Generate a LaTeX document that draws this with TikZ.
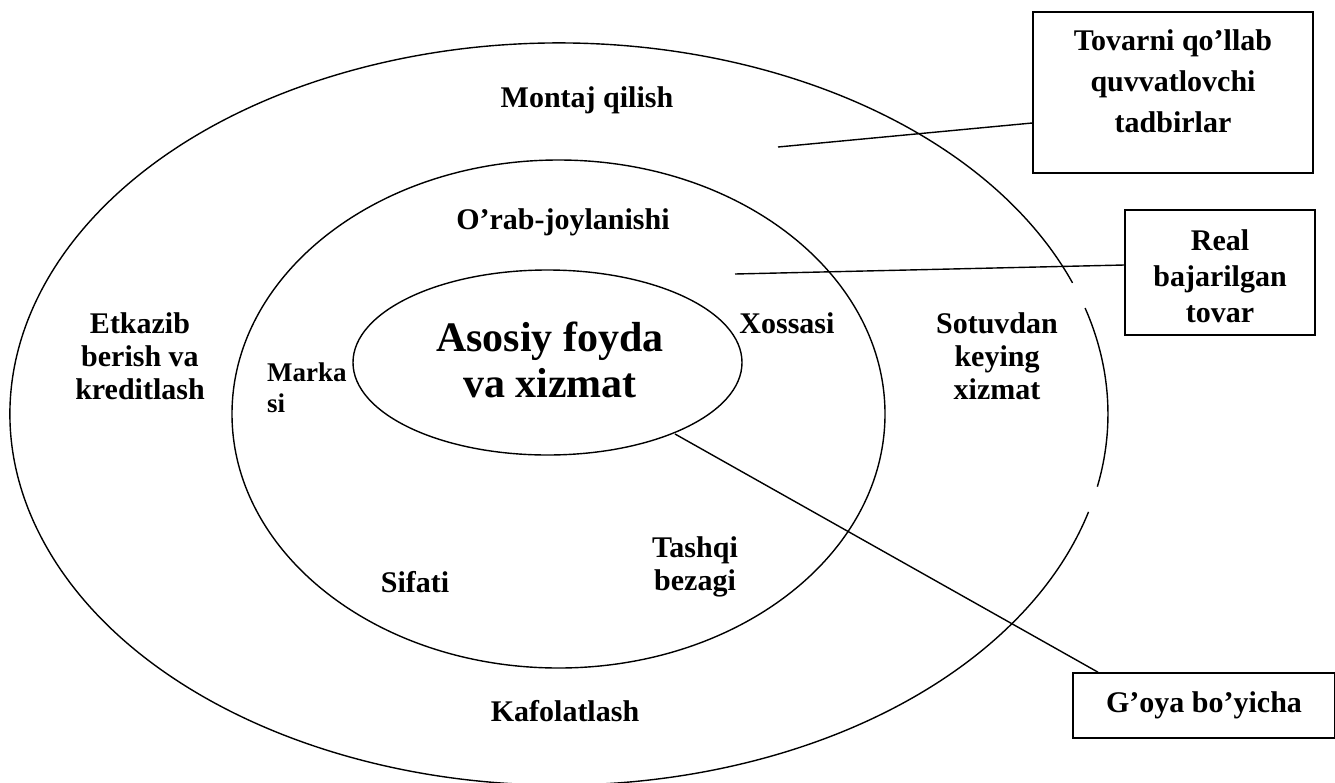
\documentclass[tikz,border=0pt]{standalone}
\usepackage{fontspec}
\setmainfont{Liberation Serif}
\usetikzlibrary{shapes.geometric}
\begin{document}
\begin{tikzpicture}[x=1pt,y=-1pt,
  ring/.style={draw,line width=1.4pt,ellipse,inner sep=0pt},
  box/.style={draw,line width=1.6pt,rectangle,inner sep=0pt},
  lbl/.style={font=\bfseries\fontsize{30}{33}\selectfont,align=center,inner sep=0pt},
  conn/.style={line width=1.4pt}]
\useasboundingbox (0,0) rectangle (1335,782);
\fill[white] (0,0) rectangle (1335,782);
% outer ring with two small gaps on the right
\draw[line width=1.4pt] (559,414) ++(20.7:549 and -371) arc[start angle=20.7,end angle=344.7,x radius=549,y radius=-371];
\draw[line width=1.4pt] (559,414) ++(-11.3:549 and -371) arc[start angle=-11.3,end angle=16.6,x radius=549,y radius=-371];
% middle and inner rings
\node[ring,minimum width=653,minimum height=508] (mid) at (558.5,414) {};
\node[ring,minimum width=389,minimum height=185] (core) at (547.5,362.5) {};
% boxes
\node[box,minimum width=280,minimum height=161] (b1) at (1173,92.5) {};
\node[box,minimum width=190,minimum height=125] (b2) at (1220,272.5) {};
\node[box,minimum width=262,minimum height=65] (b3) at (1204,705.5) {};
% box labels
\node[lbl,font=\bfseries\fontsize{30}{41}\selectfont] (t1) at (1173,81) {Tovarni qo’llab\\quvvatlovchi\\tadbirlar};
\node[lbl,font=\bfseries\fontsize{30}{36}\selectfont] (t2) at (1220,276) {Real\\bajarilgan\\tovar};
\node[lbl] (t3) at (1204,705) {G’oya bo’yicha};
% ring labels
\node[lbl] (montaj) at (587,100) {Montaj qilish};
\node[lbl] (orab) at (563,222) {O’rab-joylanishi};
\node[lbl] (xoss) at (787,323) {Xossasi};
\node[lbl] (sotuv) at (997,356) {Sotuvdan\\keying\\xizmat};
\node[lbl] (etkaz) at (140,356) {Etkazib\\berish va\\kreditlash};
\node[lbl,font=\bfseries\fontsize{27}{31}\selectfont,align=left,anchor=west] (marka) at (267,388) {Marka\\si};
\node[lbl,font=\bfseries\fontsize{42}{46}\selectfont] (asos) at (550,360) {Asosiy foyda\\va xizmat};
\node[lbl] (sifat) at (415,582) {Sifati};
\node[lbl] (tash) at (695,567) {Tashqi\\bezagi};
\node[lbl] (kafol) at (565,711) {Kafolatlash};
% connectors
\coordinate (p1) at (778,147);
\coordinate (p2) at (735,274);
\coordinate (p3) at (675,434);
\draw[conn] (p1) -- (b1.west |- 0,123);
\draw[conn] (p2) -- (b2.west |- 0,265);
\draw[conn] (p3) -- (b3.north west -| 1098,0);
\end{tikzpicture}
\end{document}
